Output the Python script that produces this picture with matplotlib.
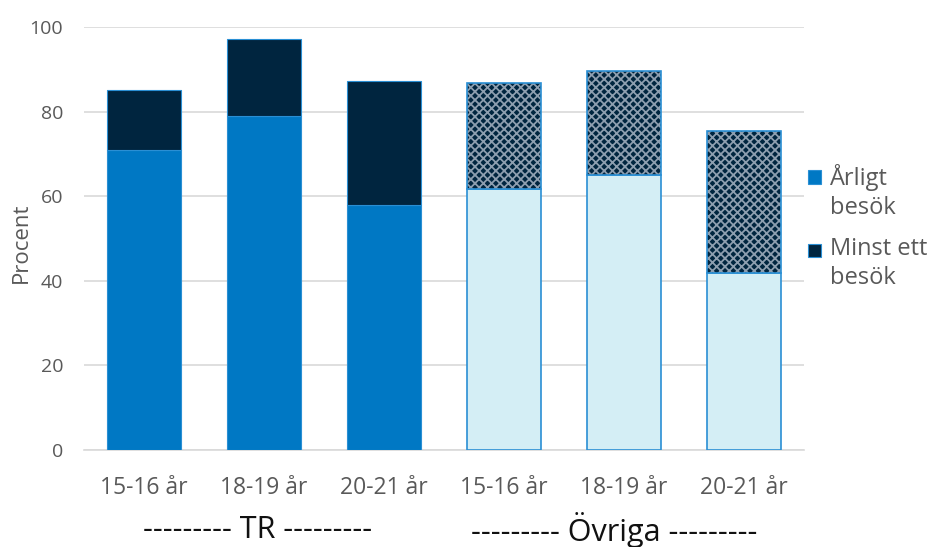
import matplotlib.pyplot as plt
import matplotlib.patches as mpatches
import numpy as np

# Tandvårdsbesök per åldersgrupp, TR jämfört med övriga
age_groups = ["15-16 år", "18-19 år", "20-21 år", "15-16 år", "18-19 år", "20-21 år"]
group_names = ["--------- TR ---------", "--------- Övriga ---------"]
group_pos = [0.95, 3.92]
is_tr = [True, True, True, False, False, False]

yearly = [71, 79, 58, 61.7, 65, 41.8]               # Årligt besök
at_least_once = [85, 97.2, 87.2, 86.8, 89.6, 75.4]  # Minst ett besök (total höjd)
legend_labels = ["Årligt\nbesök", "Minst ett\nbesök"]

blue = "#0078c4"
navy = "#00253f"
light = "#d4eef5"
edge = "#2a8fd4"
grey = "#595959"

plt.rcParams["font.family"] = ["Open Sans", "DejaVu Sans"]
plt.rcParams["hatch.linewidth"] = 1.3

fig = plt.figure(figsize=(9.33, 5.47), dpi=100)
ax = fig.add_axes([84 / 933, 97 / 547, 720 / 933, 423 / 547])

x = np.arange(len(age_groups))
width = 0.62
extra = np.array(at_least_once) - np.array(yearly)

for i in x:
    if is_tr[i]:
        ax.bar(i, yearly[i], width, color=blue, edgecolor=edge, linewidth=0.8, zorder=3)
        ax.bar(i, extra[i], width, bottom=yearly[i], color=navy, edgecolor=edge,
               linewidth=0.8, zorder=3)
    else:
        ax.bar(i, yearly[i], width, color=light, edgecolor=edge, linewidth=1.2, zorder=3)
        # hatched top part, then an outline on top of it
        ax.bar(i, extra[i], width, bottom=yearly[i], color=navy, edgecolor="#8d9eaf",
               hatch="xxxx", linewidth=0, zorder=3)
        ax.bar(i, extra[i], width, bottom=yearly[i], fill=False, edgecolor=edge,
               linewidth=1.2, zorder=4)

ax.set_xlim(-0.5, 5.5)
ax.set_ylim(0, 100)
ax.set_yticks(range(0, 101, 20))
ax.yaxis.grid(True, color="#d9d9d9", linewidth=1.2, zorder=0)
ax.set_axisbelow(True)
for side in ["top", "right", "left"]:
    ax.spines[side].set_visible(False)
ax.spines["bottom"].set_color("#d9d9d9")
ax.spines["bottom"].set_linewidth(1.2)

ax.set_xticks(x, labels=age_groups)
ax.tick_params(axis="x", length=0, labelsize=16.5, labelcolor=grey, pad=19)
ax.tick_params(axis="y", length=0, labelsize=14, labelcolor=grey, pad=15)
ax.set_ylabel("Procent", fontsize=16, color=grey)
ax.yaxis.set_label_coords(-0.072, 0.49)

for name, pos in zip(group_names, group_pos):
    ax.text(pos, -0.19, name, transform=ax.get_xaxis_transform(),
            ha="center", va="center", fontsize=22, color="#111111")

# legend with the marker beside the first line of each label
legend_colors = [blue, navy]
legend_y = [0.629, 0.456]
for col, lab, ly in zip(legend_colors, legend_labels, legend_y):
    ax.add_patch(mpatches.Rectangle((1.0055, ly), 0.018, 0.032, transform=ax.transAxes,
                                    facecolor=col, edgecolor=edge, linewidth=0.8,
                                    clip_on=False))
    ax.text(1.036, ly + 0.047, lab, transform=ax.transAxes, ha="left", va="top",
            fontsize=17, color=grey, linespacing=1.25)

fig.savefig("out.png", dpi=100)
